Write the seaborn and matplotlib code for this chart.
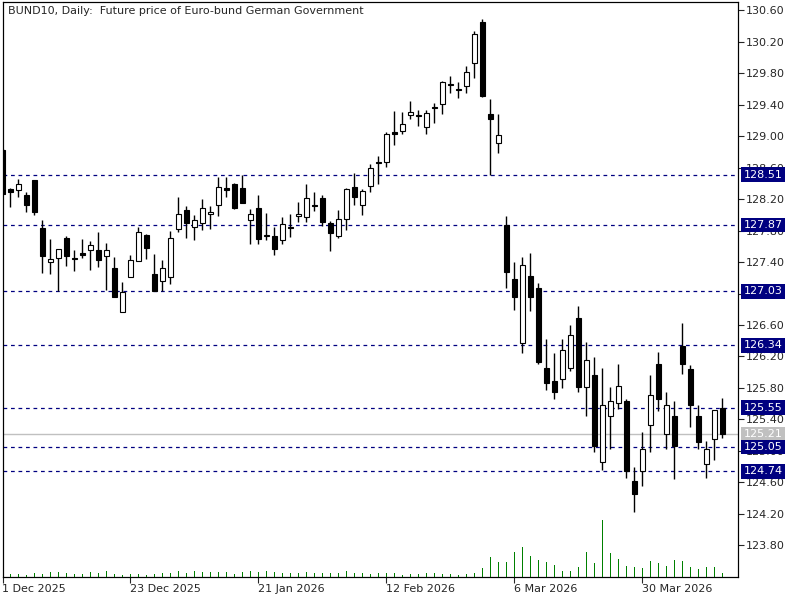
import matplotlib
matplotlib.use("Agg")
import matplotlib.pyplot as plt
import matplotlib.transforms as mtransforms
import numpy as np
import pandas as pd
import seaborn as sns

# daily OHLC for BUND10, 1 Dec 2025 .. 15 Apr 2026
opens = [128.82, 128.33, 128.31, 128.25, 128.44, 127.83, 127.40, 127.45, 127.71, 127.45,
         127.52, 127.55, 127.55, 127.48, 127.33, 126.76, 127.21, 127.41, 127.74, 127.25,
         127.16, 127.21, 127.82, 128.06, 127.85, 127.89, 128.01, 128.13, 128.34, 128.39,
         128.34, 127.93, 128.08, 127.73, 127.73, 127.68, 127.85, 127.98, 127.97, 128.12,
         128.21, 127.90, 127.73, 127.94, 128.35, 128.12, 128.36, 128.67, 128.67, 129.05,
         129.07, 129.27, 129.27, 129.12, 129.37, 129.41, 129.66, 129.60, 129.64, 129.93,
         130.45, 129.28, 128.91, 127.87, 127.18, 126.37, 127.22, 127.07, 126.06, 125.89,
         125.91, 126.05, 126.69, 125.81, 125.97, 124.86, 125.44, 125.61, 125.63, 124.62,
         124.74, 125.33, 126.10, 125.22, 125.45, 126.33, 126.04, 125.44, 124.83, 125.15,
         125.55]
highs = [128.83, 128.34, 128.45, 128.29, 128.44, 127.93, 127.69, 127.57, 127.73, 127.55,
         127.69, 127.67, 127.78, 127.64, 127.46, 127.15, 127.49, 127.85, 127.76, 127.50,
         127.43, 127.79, 128.23, 128.11, 128.00, 128.20, 128.11, 128.48, 128.48, 128.40,
         128.51, 128.07, 128.25, 128.02, 127.84, 127.97, 128.01, 128.16, 128.39, 128.29,
         128.25, 127.92, 128.06, 128.34, 128.53, 128.33, 128.65, 128.75, 129.05, 129.32,
         129.30, 129.45, 129.33, 129.33, 129.42, 129.70, 129.76, 129.68, 129.89, 130.34,
         130.48, 129.47, 129.28, 127.98, 127.40, 127.46, 127.52, 127.13, 126.42, 126.25,
         126.42, 126.60, 126.84, 126.38, 126.19, 126.05, 125.81, 126.10, 125.66, 124.80,
         125.24, 125.97, 126.26, 125.75, 125.63, 126.63, 126.09, 125.58, 125.13, 125.52,
         125.67]
lows = [128.26, 128.10, 128.22, 128.03, 128.00, 127.26, 127.25, 127.03, 127.35, 127.29,
        127.45, 127.30, 127.34, 127.04, 126.96, 126.76, 127.21, 127.41, 127.44, 127.03,
        127.03, 127.12, 127.78, 127.70, 127.68, 127.81, 127.82, 127.98, 128.22, 128.07,
        128.15, 127.63, 127.63, 127.68, 127.49, 127.63, 127.72, 127.91, 127.91, 128.05,
        127.86, 127.54, 127.70, 127.81, 128.13, 128.00, 128.29, 128.39, 128.61, 128.89,
        129.02, 129.22, 129.13, 129.03, 129.17, 129.28, 129.55, 129.48, 129.55, 129.74,
        129.50, 128.51, 128.78, 127.07, 126.79, 126.25, 126.78, 126.11, 125.77, 125.66,
        125.80, 126.01, 125.75, 125.45, 124.99, 124.76, 125.02, 125.53, 124.66, 124.23,
        124.55, 124.99, 125.51, 125.03, 124.64, 125.98, 125.30, 125.02, 124.66, 124.88,
        125.16]
closes = [128.26, 128.29, 128.39, 128.12, 128.03, 127.48, 127.44, 127.57, 127.47, 127.44,
          127.49, 127.61, 127.42, 127.55, 126.96, 127.02, 127.42, 127.78, 127.58, 127.03,
          127.32, 127.71, 128.01, 127.90, 127.93, 128.08, 128.04, 128.35, 128.31, 128.09,
          128.15, 128.01, 127.69, 127.74, 127.57, 127.88, 127.83, 128.01, 128.21, 128.11,
          127.91, 127.77, 127.94, 128.33, 128.22, 128.30, 128.60, 128.66, 129.03, 129.03,
          129.15, 129.31, 129.25, 129.29, 129.36, 129.69, 129.65, 129.59, 129.81, 130.30,
          129.51, 129.21, 129.01, 127.27, 126.95, 127.36, 126.95, 126.13, 125.86, 125.75,
          126.28, 126.47, 125.81, 126.16, 125.06, 125.58, 125.63, 125.82, 124.74, 124.45,
          125.02, 125.71, 125.66, 125.58, 125.06, 126.11, 125.58, 125.11, 125.03, 125.52,
          125.21]
tick_volume = [300, 300, 300, 200, 350, 300, 500, 500, 400, 300,
               250, 500, 320, 600, 300, 200, 300, 250, 200, 300,
               400, 400, 600, 400, 600, 430, 450, 430, 450, 300,
               430, 600, 450, 530, 500, 330, 330, 330, 450, 400,
               400, 320, 320, 600, 320, 320, 250, 400, 400, 400,
               120, 300, 230, 330, 400, 230, 230, 120, 230, 400,
               850, 2000, 1500, 1450, 2500, 3000, 2100, 1700, 1500, 1200,
               600, 600, 1000, 2500, 1400, 5700, 2400, 1800, 1100, 1000,
               900, 1600, 1400, 1100, 1700, 1600, 1000, 800, 1000, 1000,
               400]

date_labels = ["1 Dec 2025", "23 Dec 2025", "21 Jan 2026", "12 Feb 2026",
               "6 Mar 2026", "30 Mar 2026"]
level_lines = [128.51, 127.87, 127.03, 126.34, 125.55, 125.05, 124.74]
last_price = 125.21
price_ticks = [123.80, 124.20, 124.60, 125.00, 125.40, 125.80, 126.20, 126.60,
               127.00, 127.40, 127.80, 128.20, 128.60, 129.00, 129.40, 129.80,
               130.20, 130.60]

df = pd.DataFrame({"open": opens, "high": highs, "low": lows,
                   "close": closes, "volume": tick_volume})
df["bar"] = np.arange(len(df))
up = df["close"] >= df["open"]

sns.set_style("white")
plt.rcParams["font.family"] = ["DejaVu Sans"]

navy = "#000080"
fig = plt.figure(figsize=(8, 6), dpi=100)
ax = fig.add_axes([2.5 / 800, 23.5 / 600, 735 / 800, 574.5 / 600])

# wicks + bodies
ax.vlines(df["bar"], df["low"], df["high"], color="black", lw=1, zorder=3)
body_lo = df[["open", "close"]].min(axis=1)
body_h = (df["close"] - df["open"]).abs()
ax.bar(df["bar"], body_h, bottom=body_lo, width=0.55,
       color=np.where(up, "white", "black"), edgecolor="black",
       linewidth=0.8, zorder=4)

for lvl in level_lines:
    ax.axhline(lvl, color=navy, lw=0.9, ls=(0, (3, 3)), zorder=2)
ax.axhline(last_price, color="#c0c0c0", lw=1, zorder=1)

# volume histogram on its own scale at the bottom
vol_ax = ax.twinx()
sns.barplot(x=df["bar"], y=df["volume"], native_scale=True, ax=vol_ax,
            color="#008000", saturation=1, width=0.17, linewidth=0, errorbar=None)
vol_ax.set_ylim(0, df["volume"].max() * 10.1)
vol_ax.set_yticks([])
vol_ax.set_xlabel("")
vol_ax.set_ylabel("")

ax.set_xlim(0, 91.9)
ax.set_ylim(123.406, 130.702)
ax.yaxis.tick_right()
ax.set_yticks(price_ticks)
ax.set_yticklabels([f"{t:.2f}" for t in price_ticks])
ax.tick_params(axis="y", direction="out", length=4, width=0.8, pad=2,
               labelsize=8, right=True, left=False)
ax.set_xticks(np.arange(0, len(df), 16)[:len(date_labels)])
ax.set_xticklabels(date_labels, ha="left")
ax.tick_params(axis="x", direction="out", length=4, width=0.8, pad=1.5,
               labelsize=8, bottom=True)

for a in (ax, vol_ax):
    for sp in a.spines.values():
        sp.set_color("black")
        sp.set_linewidth(0.8)

# price labels on the right scale
trans = mtransforms.blended_transform_factory(ax.transAxes, ax.transData)
for lvl in level_lines:
    ax.text(1.008, lvl, f"{lvl:.2f}", transform=trans, ha="left", va="center",
            fontsize=8, color="white", clip_on=False, zorder=10,
            bbox=dict(boxstyle="square,pad=0.22", fc=navy, ec="none"))
ax.text(1.008, last_price, f"{last_price:.2f}", transform=trans, ha="left",
        va="center", fontsize=8, color="white", clip_on=False, zorder=9,
        bbox=dict(boxstyle="square,pad=0.22", fc="#c0c0c0", ec="none"))

fig.text(8 / 800, 1 - 11 / 600,
         "BUND10, Daily:  Future price of Euro-bund German Government",
         fontsize=8, ha="left", va="center")

fig.savefig("out.png", dpi=100)
